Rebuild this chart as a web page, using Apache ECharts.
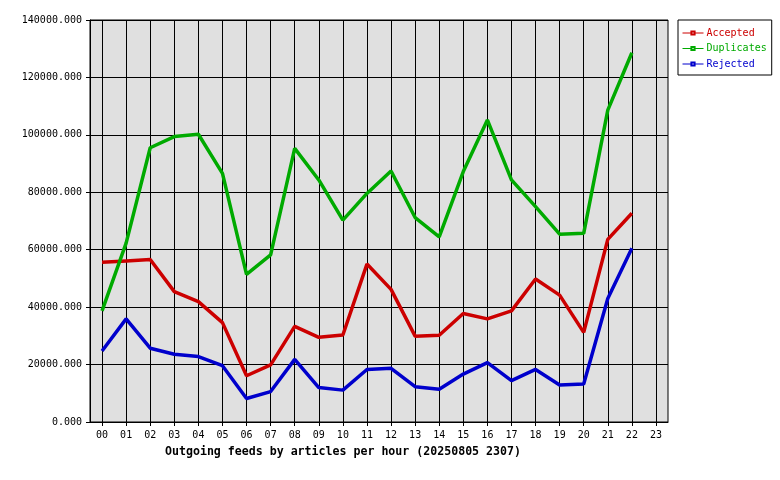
<!DOCTYPE html>
<html>
<head>
<meta charset="utf-8">
<script src="https://cdn.jsdelivr.net/npm/echarts@6/dist/echarts.min.js"></script>
<style>
html,body{margin:0;padding:0;background:#fff;}
#c{width:780px;height:480px;}
</style>
</head>
<body>
<div id="c"></div>
<script>
var hours = ['00','01','02','03','04','05','06','07','08','09','10','11','12','13','14','15','16','17','18','19','20','21','22','23'];
var accepted = [55600, 56100, 56600, 45400, 41900, 34600, 16100, 19900, 33300, 29500, 30300, 55000, 46200, 29900, 30200, 37800, 35900, 38700, 49800, 44200, 31200, 63600, 72700];
var duplicates = [38700, 62300, 95500, 99400, 100200, 86600, 51400, 58200, 95300, 84300, 70300, 79600, 87400, 71200, 64500, 87200, 105200, 84300, 75000, 65400, 65700, 108600, 128600];
var rejected = [24700, 35900, 25700, 23600, 22800, 19600, 8200, 10600, 21800, 12000, 11100, 18300, 18700, 12300, 11400, 16700, 20700, 14400, 18300, 12900, 13200, 43000, 60500];
var titleText = 'Outgoing feeds by articles per hour (20250805 2307)';
var seriesNames = ['Accepted', 'Duplicates', 'Rejected'];
var seriesColors = ['#cc0000', '#00aa00', '#0000cc'];
var seriesData = [accepted, duplicates, rejected];

var mono = 'DejaVu Sans Mono';
var chart = echarts.init(document.getElementById('c'), null, {renderer: 'canvas'});
var series = seriesNames.map(function (n, i) {
  return {
    name: n,
    type: 'line',
    data: seriesData[i],
    color: seriesColors[i],
    symbol: 'emptyRect',
    showSymbol: false,
    lineStyle: {width: 3.5, color: seriesColors[i]},
    itemStyle: {color: seriesColors[i]},
    animation: false,
    z: 5
  };
});
chart.setOption({
  animation: false,
  title: {
    text: titleText,
    left: 165,
    top: 446,
    padding: 0,
    textStyle: {fontFamily: mono, fontWeight: 'bold', fontSize: 11.6, color: '#000'}
  },
  legend: {
    orient: 'vertical',
    left: 678,
    top: 20,
    padding: [7, 5, 5, 4],
    itemGap: 3.5,
    itemWidth: 21,
    itemHeight: 4,
    backgroundColor: '#fff',
    borderColor: '#000',
    borderWidth: 1,
    borderRadius: 0,
    lineStyle: {width: 1},
    data: seriesNames.map(function (n, i) {
      return {name: n, textStyle: {color: seriesColors[i]}};
    }),
    textStyle: {fontFamily: mono, fontSize: 10, lineHeight: 12, padding: [0, 0, 0, -2]}
  },
  grid: {
    left: 90, right: 112, top: 20, bottom: 58,
    show: true,
    backgroundColor: '#e0e0e0',
    borderColor: '#000',
    borderWidth: 1
  },
  xAxis: {
    type: 'category',
    data: hours,
    boundaryGap: true,
    axisLine: {lineStyle: {color: '#000', width: 1}},
    axisTick: {show: true, alignWithLabel: true, length: 4, lineStyle: {color: '#000'}},
    splitLine: {show: true, alignWithLabel: true, lineStyle: {color: '#000', width: 1}},
    axisLabel: {fontFamily: mono, fontSize: 10, color: '#000', margin: 8, interval: 0}
  },
  yAxis: {
    type: 'value',
    min: 0,
    max: 140000,
    interval: 20000,
    axisLine: {show: true, lineStyle: {color: '#000', width: 1}},
    axisTick: {show: true, length: 4, lineStyle: {color: '#000'}},
    splitLine: {show: true, lineStyle: {color: '#000', width: 1}},
    axisLabel: {
      fontFamily: mono, fontSize: 10, color: '#000', margin: 8,
      formatter: function (v) { return v.toFixed(3); }
    }
  },
  series: series
});
</script>
</body>
</html>
